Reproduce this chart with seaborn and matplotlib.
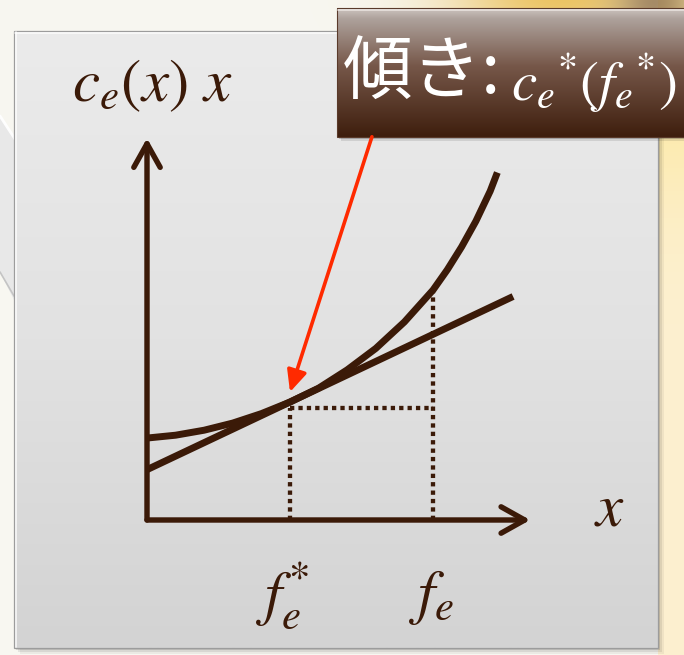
import numpy as np
import matplotlib
matplotlib.use("Agg")
import matplotlib.pyplot as plt
import seaborn as sns
from matplotlib.patches import Rectangle, Polygon, FancyArrowPatch, ArrowStyle
from matplotlib.colors import LinearSegmentedColormap

# ---- data (axis units: f_e* = 1, f_e = 2) ----
# total cost curve c_e(x) x
curve_x = [0.0, 0.2, 0.4, 0.6, 0.8, 1.0, 1.2, 1.4, 1.6, 1.8, 2.0, 2.1, 2.2, 2.3, 2.4, 2.45]
curve_y = [0.573, 0.593, 0.628, 0.678, 0.744, 0.825, 0.922, 1.05, 1.20, 1.385,
           1.608, 1.75, 1.91, 2.09, 2.30, 2.43]
# tangent line at f_e*
tangent_x = [0.0, 2.56]
tangent_y = [0.352, 1.563]
fe_star = 1.0
fe = 2.0
fe_star_level = 0.78          # horizontal guide through the tangent point
fe_curve_value = 1.608        # curve height at f_e
axis_x_end = 2.68
axis_y_end = 2.67

# ---- text ----
y_label = r"$c_e(x)\ x$"
x_label = r"$x$"
tick_labels = [r"$f_e^{*}$", r"$f_e$"]
callout_jp = "傾き:"
callout_math = r"$c_e{}^{*}(f_e{}^{*})$"

BROWN = "#3b1a08"
RED = "#ff2a00"

sns.set_style("white")
plt.rcParams["font.family"] = ["Noto Sans CJK JP", "DejaVu Sans"]
plt.rcParams["mathtext.fontset"] = "stix"

W, H = 684, 655
fig = plt.figure(figsize=(W / 100, H / 100), dpi=100)

# ---------- background layer (pixel coordinates) ----------
bg = fig.add_axes([0, 0, 1, 1])
bg.set_axis_off()

yy, xx = np.mgrid[0:H, 0:W].astype(float)
img = np.ones((H, W, 3)) * np.array([248, 247, 241]) / 255.0

def blend(img, weight, rgb):
    w = np.clip(weight, 0, 1)[..., None]
    return img * (1 - w) + w * (np.array(rgb) / 255.0)

right = (xx >= 658).astype(float)
img = blend(img, right, (252, 240, 208))
img = blend(img, right * np.exp(-((yy - 80) ** 2) / (2 * 90 ** 2)) * 0.8, (253, 232, 160))
img = blend(img, np.exp(-((xx - 560) ** 2 / (2 * 80 ** 2) + (yy + 5) ** 2 / (2 * 35 ** 2))), (236, 196, 100))
img = blend(img, 0.75 * np.exp(-((xx - 655) ** 2 / (2 * 28 ** 2) + (yy - 2) ** 2 / (2 * 22 ** 2))), (140, 112, 80))
bg.imshow(img, extent=[0, W, H, 0], aspect="auto", zorder=0)

# speech-bubble tail on the left
tail = Polygon([(0, 116), (30, 162), (30, 285), (14, 300), (0, 272)], closed=True,
               facecolor="#e8e8e8", edgecolor="none", zorder=1)
bg.add_patch(tail)
bg.plot([0, 26], [116, 156], color="#ffffff", lw=2.0, alpha=0.95, zorder=1.1)
bg.plot([0, 14], [272, 296], color="#c4c4c4", lw=1.2, zorder=1.1)

# panel shadow and body
for off, a in [(6, 0.05), (4, 0.08), (2, 0.12)]:
    bg.add_patch(Rectangle((14 + off, 31 + off), 644, 617, facecolor="black",
                           alpha=a, edgecolor="none", zorder=1.5))
panel_cmap = LinearSegmentedColormap.from_list("panel", ["#ebebeb", "#e2e2e2", "#d3d3d3"])
bg.imshow(np.linspace(0, 1, 256)[:, None], cmap=panel_cmap, extent=[14, 658, 648, 31],
          aspect="auto", zorder=2)
bg.add_patch(Rectangle((14, 31), 644, 617, facecolor="none", edgecolor="#9c9c9c",
                       lw=0.9, zorder=2.2))
bg.plot([15, 657], [32.5, 32.5], color="white", lw=1.2, alpha=0.8, zorder=2.3)
bg.plot([15.5, 15.5], [32, 647], color="white", lw=1.2, alpha=0.8, zorder=2.3)

# callout box
for off, a in [(4, 0.10), (2, 0.18)]:
    bg.add_patch(Rectangle((337 + off, 8 + off), 360, 129, facecolor="black",
                           alpha=a, edgecolor="none", zorder=3))
box_cmap = LinearSegmentedColormap.from_list(
    "box", [(0.0, "#cdc5c0"), (0.08, "#aea29c"), (0.45, "#765749"), (1.0, "#3e1e0d")])
bg.imshow(np.linspace(0, 1, 256)[:, None], cmap=box_cmap, extent=[337, 700, 137, 8],
          aspect="auto", zorder=3.5)
bg.add_patch(Rectangle((337, 8), 363, 129, facecolor="none", edgecolor="#5a3a2a",
                       lw=0.8, zorder=3.6))
bg.plot([338, 700], [9.5, 9.5], color="#e8e2de", lw=1.2, zorder=3.7)

bg.text(343, 74, callout_jp, fontsize=50, color="white", ha="left", va="center",
        family=["Noto Sans CJK JP", "DejaVu Sans"], zorder=4)
bg.text(511, 83, callout_math, fontsize=41, color="white", ha="left", va="center", zorder=4)

bg.text(152, 84, y_label, fontsize=44, color=BROWN, ha="center", va="center", zorder=4)
bg.text(609, 508, x_label, fontsize=44, color=BROWN, ha="center", va="center", zorder=4)

bg.set_xlim(0, W)
bg.set_ylim(H, 0)

# ---------- chart layer (data coordinates) ----------
ax = fig.add_axes([0, 0, 1, 1])
ax.patch.set_alpha(0)

dot = (0, (1, 0.95))
guide = dict(color=BROWN, lw=3.1, ls=dot, dash_capstyle="butt")
ax.plot([fe_star, fe_star], [0, fe_star_level], **guide)
ax.plot([fe_star, fe], [fe_star_level, fe_star_level], **guide)
ax.plot([fe, fe], [0, fe_curve_value], **guide)

sns.lineplot(x=tangent_x, y=tangent_y, ax=ax, color=BROWN, lw=5.0, sort=False,
             estimator=None, solid_capstyle="butt")
sns.lineplot(x=curve_x, y=curve_y, ax=ax, color=BROWN, lw=5.0, sort=False,
             estimator=None, solid_capstyle="butt", solid_joinstyle="round")

axis_style = ArrowStyle("->", head_length=17, head_width=9.5)
for end in [(axis_x_end, 0), (0, axis_y_end)]:
    ax.add_patch(FancyArrowPatch((0, 0), end, arrowstyle=axis_style, mutation_scale=1,
                                 lw=3.9, color=BROWN, shrinkA=0, shrinkB=0,
                                 capstyle="round", joinstyle="round", zorder=5))

# pointer from the callout to the tangent point
ax.add_patch(FancyArrowPatch((1.573, 2.68), (fe_star, curve_y[curve_x.index(fe_star)] + 0.07),
                             arrowstyle=ArrowStyle("-|>", head_length=13, head_width=6),
                             mutation_scale=1, lw=2.6, color=RED, shrinkA=0, shrinkB=0, zorder=6))

ax.text(fe_star - 0.05, -0.53, tick_labels[0], fontsize=44, color=BROWN, ha="center", va="center")
ax.text(fe - 0.007, -0.53, tick_labels[1], fontsize=44, color=BROWN, ha="center", va="center")

ax.set_xlim(-147 / 143, (W - 147) / 143)
ax.set_ylim((520 - H) / 143, 520 / 143)
ax.set_axis_off()

fig.savefig("out.png", dpi=100)
